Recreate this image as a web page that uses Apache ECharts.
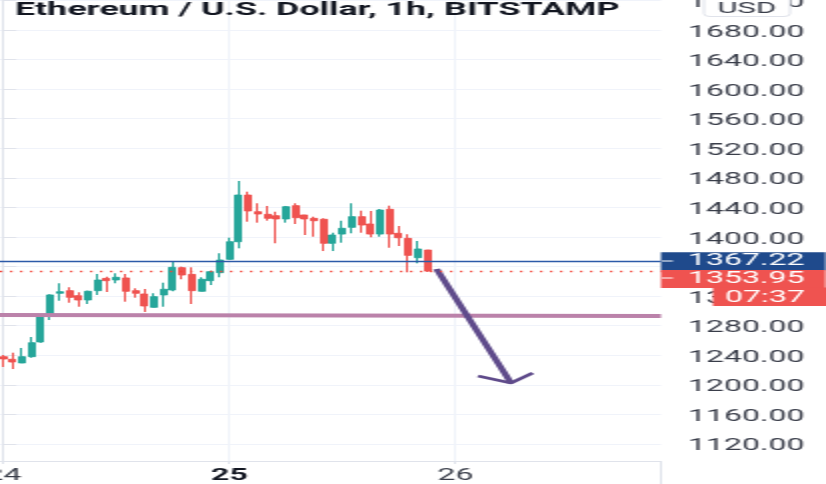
<!DOCTYPE html>
<html>
<head>
<meta charset="utf-8">
<title>Ethereum / U.S. Dollar</title>
<style>
    html, body { margin: 0; padding: 0; background: #fff; overflow: hidden; }
    /* the reference is a screenshot stretched 2x sideways */
    #chart { width: 413px; height: 484px; transform: scaleX(2); transform-origin: 0 0; }
</style>
<script src="https://cdn.jsdelivr.net/npm/echarts@6/dist/echarts.min.js"></script>
</head>
<body>
<div id="chart"></div>
<script>
// hours since the 24th 00:00
const hours = [0, 1, 2, 3, 4, 5, 6, 7, 8, 9, 10, 11, 12, 13, 14, 15, 16, 17, 18, 19, 20, 21, 22, 23,
    24, 25, 26, 27, 28, 29, 30, 31, 32, 33, 34, 35, 36, 37, 38, 39, 40, 41, 42, 43, 44, 45];
const opens = [1238.1, 1234.6, 1229.6, 1238.1, 1258, 1294.5, 1323.9, 1327.4, 1320.6, 1314.8, 1327.4, 1344.1,
    1341.9, 1344.6, 1327.4, 1322.9, 1304.9, 1321.6, 1328.3, 1358.5, 1349.5, 1326.6, 1340.9, 1351.7,
    1369.8, 1393.6, 1456.8, 1434.2, 1430.7, 1428.8, 1424.4, 1442.4, 1429.8, 1425.3, 1424, 1391.5,
    1404, 1413.1, 1427.5, 1417.6, 1404, 1437.5, 1405, 1398.2, 1372, 1382.4];
const closes = [1235, 1230.9, 1238.1, 1257, 1293.2, 1321.6, 1326, 1318.4, 1314.8, 1326.6, 1341.8, 1340.9,
    1345.5, 1326.6, 1323.9, 1306.7, 1319.3, 1329.3, 1359, 1348.6, 1327.4, 1342.8, 1353.1, 1368.9,
    1393.6, 1456.8, 1435.2, 1431.1, 1425.3, 1424.4, 1441, 1426.1, 1424.4, 1422, 1391.5, 1402.7,
    1411.8, 1427.5, 1416.2, 1404, 1436.5, 1404, 1399, 1375.2, 1383.8, 1353.95];
const lows = [1224.2, 1221.4, 1229.6, 1236.7, 1257, 1287.7, 1313.8, 1311.1, 1305.7, 1309.4, 1321.6, 1325.6,
    1337.4, 1312.5, 1317.9, 1298.6, 1304.9, 1305.7, 1326.6, 1342.8, 1309.4, 1326.6, 1335, 1345.5,
    1369.8, 1384.7, 1420.7, 1419.4, 1422.1, 1391.5, 1419.4, 1417.6, 1402.7, 1400.4, 1381, 1381,
    1392.3, 1405, 1405.8, 1399.6, 1400.4, 1385.5, 1387.8, 1352.2, 1364.4, 1352.7];
const highs = [1240.4, 1243.5, 1249.9, 1264.7, 1293.2, 1322.5, 1337.4, 1332, 1325.2, 1327.4, 1350, 1346.3,
    1350.9, 1350, 1330.6, 1329.7, 1323.9, 1338.2, 1366.6, 1359.9, 1359, 1345.5, 1354.4, 1378,
    1399.1, 1475.8, 1461.3, 1445.6, 1442, 1434.2, 1442, 1445.6, 1429.8, 1427.5, 1425.3, 1405.8,
    1422, 1445.6, 1435.6, 1435.2, 1437.9, 1442.4, 1414.9, 1403.7, 1394.6, 1382.4];

const priceTicks = [1120, 1160, 1200, 1240, 1280, 1320, 1360, 1400, 1440, 1480, 1520, 1560, 1600, 1640, 1680, 1720];
const dayTicks = [0, 24, 48];
const dayLabels = ['24', '25', '26'];

const lastBlue = 1367.22;
const lastRed = 1353.95;
const countdown = '07:37';

// hand drawn lines on the chart
const supportLine = [[-0.35, 1294.5], [69.82, 1293]];
const arrowShaft = [[46.0, 1356.7], [53.9, 1202.5]];
const arrowHead = [[50.4, 1212], [53.9, 1202.5], [56.2, 1216]];

const green = '#26a69a';
const red = '#ef5350';
const textFont = 'Roboto';

const chart = echarts.init(document.getElementById('chart'));

const option = {
    animation: false,
    backgroundColor: '#fff',
    title: {
        text: 'Ethereum / U.S. Dollar, 1h, BITSTAMP',
        left: 7.5,
        top: 2,
        padding: 0,
        textStyle: { fontFamily: textFont, fontSize: 17.9, fontWeight: 'bold', color: '#131722', lineHeight: 17 }
    },
    // labels hang outside the plot, so the grid must not shrink for them
    grid: { left: 0, top: 0, width: 330.5, height: 461, outerBoundsMode: 'none' },
    xAxis: {
        type: 'value',
        min: -0.35,
        max: 69.82,
        axisLine: { lineStyle: { color: '#e0e3eb', width: 1 } },
        axisTick: { customValues: dayTicks, length: 3, lineStyle: { color: '#e0e3eb' } },
        splitLine: { show: true, lineStyle: { color: '#f0f3fa', width: 1 } },
        axisLabel: {
            customValues: dayTicks,
            margin: 7,
            fontFamily: textFont,
            fontSize: 16,
            color: '#3a3e4a',
            formatter: function (v) {
                let s = dayLabels[dayTicks.indexOf(v)];
                return v === 24 ? '{b|' + s + '}' : s;
            },
            rich: { b: { fontFamily: textFont, fontSize: 16, fontWeight: 'bold', color: '#131722' } }
        }
    },
    yAxis: {
        type: 'value',
        position: 'right',
        min: 1097,
        max: 1720.6,
        axisLine: { show: true, lineStyle: { color: '#e0e3eb', width: 1 } },
        axisTick: { show: true, customValues: priceTicks, length: 6.5, lineStyle: { color: '#e0e3eb' } },
        splitLine: { show: true, lineStyle: { color: '#f0f3fa', width: 1 } },
        axisLabel: {
            customValues: priceTicks,
            margin: 13.5,
            // sits a little under the tick in the reference
            verticalAlign: 'top',
            lineHeight: 5,
            fontFamily: textFont,
            fontSize: 16,
            color: '#3a3e4a',
            formatter: function (v) { return v.toFixed(2); }
        }
    },
    series: [
        {
            type: 'candlestick',
            barWidth: 3.5,
            data: hours.map(function (h, i) { return [h, opens[i], closes[i], lows[i], highs[i]]; }),
            itemStyle: { color: green, color0: red, borderColor: green, borderColor0: red, borderWidth: 1 },
            markLine: {
                silent: true,
                symbol: 'none',
                animation: false,
                data: [
                    {
                        yAxis: lastBlue,
                        lineStyle: { color: '#2c5aa8', type: 'solid', width: 1.4 },
                        label: {
                            position: 'end', distance: 0, formatter: lastBlue.toFixed(2),
                            fontFamily: textFont, fontSize: 16, lineHeight: 17, color: '#fff',
                            backgroundColor: '#1f4a8c', padding: [1, 10.5, 0, 13.5]
                        }
                    },
                    {
                        yAxis: lastRed,
                        lineStyle: { color: '#f44336', type: [1.2, 3.8], width: 1.4 },
                        label: {
                            position: 'end', distance: 0, offset: [0, 8], formatter: lastRed.toFixed(2),
                            fontFamily: textFont, fontSize: 16, lineHeight: 17, color: '#fff',
                            backgroundColor: red, padding: [1, 10.5, 0, 13.5]
                        }
                    }
                ]
            }
        },
        {
            type: 'line',
            data: supportLine,
            symbol: 'none',
            silent: true,
            lineStyle: { color: '#bb82aa', width: 4 }
        },
        {
            type: 'line',
            data: arrowShaft,
            symbol: 'none',
            silent: true,
            lineStyle: { color: '#5f4b8b', width: 3.5 }
        },
        {
            type: 'line',
            data: arrowHead,
            symbol: 'none',
            silent: true,
            lineStyle: { color: '#5f4b8b', width: 2.5 }
        }
    ],
    graphic: [
        // axis line runs on to the bottom edge
        { type: 'line', z: 5, shape: { x1: 330.5, y1: 461, x2: 330.5, y2: 484 }, style: { stroke: '#e0e3eb', lineWidth: 1 } },
        // ticks inside the price tags
        { type: 'line', z: 50, shape: { x1: 331, y1: 261, x2: 336.5, y2: 261 }, style: { stroke: '#fff', lineWidth: 1 } },
        { type: 'line', z: 50, shape: { x1: 331, y1: 278, x2: 336.5, y2: 278 }, style: { stroke: '#fff', lineWidth: 1 } },
        // countdown
        { type: 'rect', z: 50, shape: { x: 356.5, y: 287.5, width: 57, height: 18.5 }, style: { fill: red } },
        {
            type: 'text', z: 51, x: 382.5, y: 298,
            style: { text: countdown, fill: '#fff', font: '16px ' + textFont, textAlign: 'center', textVerticalAlign: 'middle' }
        },
        // currency badge
        { type: 'rect', z: 50, shape: { x: 352, y: -4, width: 43, height: 20.5, r: 3 }, style: { fill: '#fff', stroke: '#e0e3eb', lineWidth: 1 } },
        {
            type: 'text', z: 51, x: 373.5, y: 9,
            style: { text: 'USD', fill: '#3a3e4a', font: '15.5px ' + textFont, textAlign: 'center', textVerticalAlign: 'middle' }
        }
    ]
};

chart.setOption(option);
</script>
</body>
</html>
